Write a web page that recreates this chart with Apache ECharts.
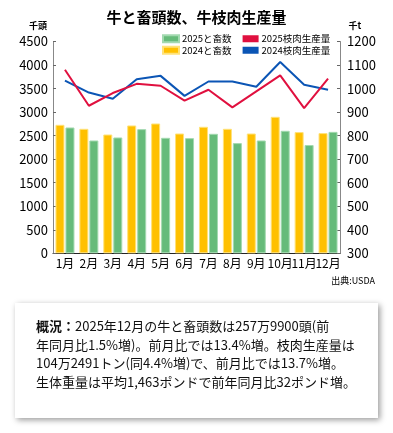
<!DOCTYPE html>
<html><head><meta charset="utf-8">
<script src="https://cdn.jsdelivr.net/npm/echarts@6/dist/echarts.min.js"></script>
<style>html,body{margin:0;padding:0;background:#fff;}#c{width:393px;height:433px;}</style>
</head><body><div id="c"></div>
<script>
const categories = ['1月','2月','3月','4月','5月','6月','7月','8月','9月','10月','11月','12月'];
const slaughter2024 = [2730,2645,2524,2716,2758,2545,2688,2645,2545,2900,2575,2554];
const slaughter2025 = [2673,2397,2461,2638,2454,2447,2539,2341,2397,2603,2300,2580];
const beef2025 = [1080,927,981,1020,1012,949,995,920,988,1056,917,1042];
const beef2024 = [1034,983,957,1040,1054,969,1030,1030,1008,1113,1016,995];
const leftTicks = [0,4500,500];
const rightTicks = [300,1200,100];

const FONT = '"Noto Sans CJK JP", "Noto Sans", sans-serif';
const chart = echarts.init(document.getElementById('c'));
const textLines = [
  '{b|概況：}2025年12月の牛と畜頭数は257万9900頭(前',
  '年同月比1.5%増)。前月比では13.4%増。枝肉生産量は',
  '104万2491トン(同4.4%増)で、前月比では13.7%増。',
  '生体重量は平均1,463ポンドで前年同月比32ポンド増。'
];
const plain = v => String(v);
chart.setOption({
  backgroundColor: '#fff',
  animation: false,
  textStyle: {fontFamily: FONT},
  grid: {left: 53, right: 53, top: 41.5, bottom: 433 - 253.3, containLabel: false},
  legend: [
    {data: ['2025と畜数','2025枝肉生産量'], left: 162, top: 34, itemWidth: 16, itemHeight: 7, itemGap: 11,
     textStyle: {fontSize: 9.5, color: '#000', fontFamily: FONT, padding: [0,0,0,-2]}, padding: 0, icon: 'rect'},
    {data: ['2024と畜数','2024枝肉生産量'], left: 162, top: 45.5, itemWidth: 16, itemHeight: 7, itemGap: 11,
     textStyle: {fontSize: 9.5, color: '#000', fontFamily: FONT, padding: [0,0,0,-2]}, padding: 0, icon: 'rect'}
  ],
  xAxis: {
    type: 'category', data: categories,
    axisLine: {lineStyle: {color: '#222', width: 1}},
    axisTick: {inside: true, length: 3, lineStyle: {color: '#444'}},
    axisLabel: {interval: 0, fontSize: 12, color: '#000', margin: 4, fontFamily: FONT}
  },
  yAxis: [
    {type: 'value', min: leftTicks[0], max: leftTicks[1], interval: leftTicks[2],
     axisLine: {show: true, lineStyle: {color: '#888'}},
     axisTick: {show: true, inside: true, length: 3, lineStyle: {color: '#666'}},
     splitLine: {show: false},
     axisLabel: {fontSize: 13, color: '#000', margin: 5, fontFamily: FONT, formatter: plain}},
    {type: 'value', min: rightTicks[0], max: rightTicks[1], interval: rightTicks[2],
     axisLine: {show: true, lineStyle: {color: '#888'}},
     axisTick: {show: true, inside: true, length: 3, lineStyle: {color: '#666'}},
     splitLine: {show: false},
     axisLabel: {fontSize: 13, color: '#000', margin: 7, fontFamily: FONT, formatter: plain}}
  ],
  series: [
    {name: '2024と畜数', type: 'bar', data: slaughter2024, barWidth: 9, barGap: '11%',
     itemStyle: {color: '#FFC000', borderColor: '#FFE27A', borderWidth: 1}},
    {name: '2025と畜数', type: 'bar', data: slaughter2025, barWidth: 9,
     itemStyle: {color: '#66BB7A', borderColor: '#A3D9B0', borderWidth: 1}},
    {name: '2025枝肉生産量', type: 'line', yAxisIndex: 1, data: beef2025, symbol: 'none',
     lineStyle: {color: '#E0103F', width: 2}, itemStyle: {color: '#E0103F'}, z: 5},
    {name: '2024枝肉生産量', type: 'line', yAxisIndex: 1, data: beef2024, symbol: 'none',
     lineStyle: {color: '#0B55B5', width: 2}, itemStyle: {color: '#0B55B5'}, z: 4}
  ],
  graphic: [
    {type: 'text', left: 'center', top: 10, style: {text: '牛と畜頭数、牛枝肉生産量', font: 'bold 15px ' + FONT, fill: '#000'}},
    {type: 'text', x: 38, y: 26, style: {text: '千頭', font: 'bold 9px ' + FONT, fill: '#000', align: 'center', verticalAlign: 'middle'}},
    {type: 'text', x: 355, y: 26, style: {text: '千t', font: 'bold 9px ' + FONT, fill: '#000', align: 'center', verticalAlign: 'middle'}},
    {type: 'text', x: 375, y: 281, style: {text: '出典:USDA', font: '9px ' + FONT, fill: '#000', align: 'right', verticalAlign: 'middle'}},
    {type: 'rect', shape: {x: 15, y: 303, width: 363, height: 115},
     style: {fill: '#fff', shadowBlur: 6, shadowOffsetX: 2, shadowOffsetY: 2, shadowColor: 'rgba(0,0,0,0.4)'}},
    {type: 'text', x: 36, y: 316.5, style: {
      text: textLines.join('\n'), font: '13px ' + FONT, fill: '#111', lineHeight: 18.8,
      rich: {b: {fontWeight: 'bold', fontSize: 13, fontFamily: FONT, fill: '#111', lineHeight: 18.8}}
    }}
  ]
});
</script></body></html>
